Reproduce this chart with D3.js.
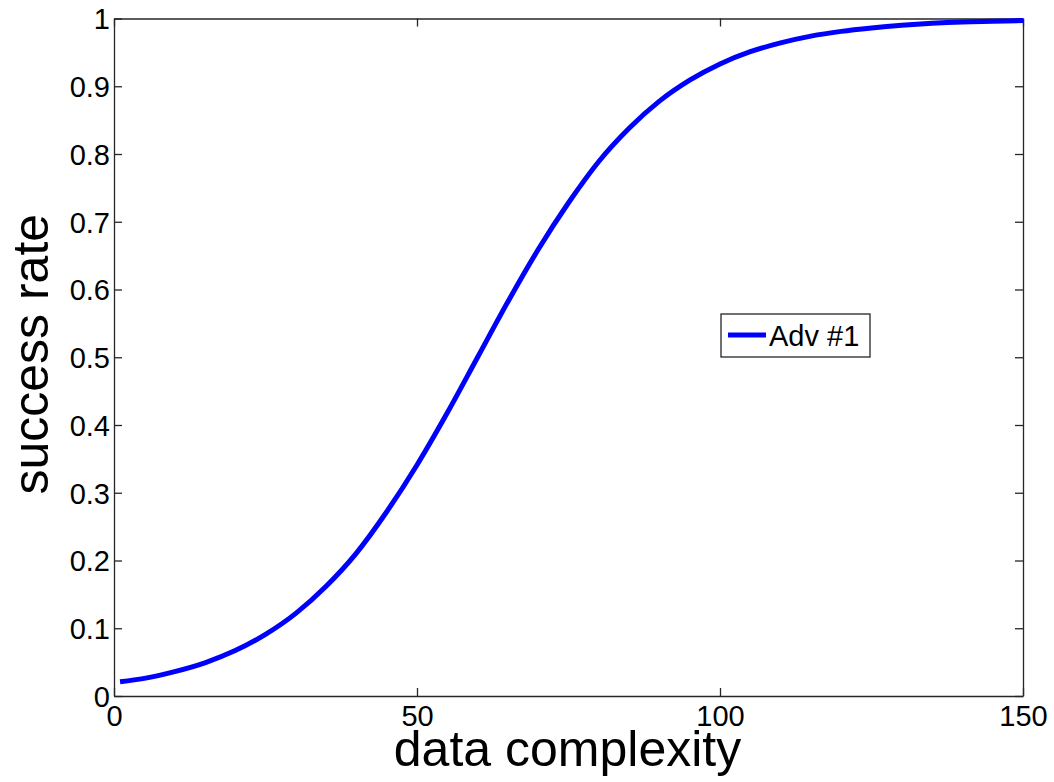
<!DOCTYPE html>
<html>
<head>
<meta charset="utf-8">
<script src="https://cdn.jsdelivr.net/npm/d3@7"></script>
<style>
  body { margin: 0; background: #fff; }
  text { font-family: "Liberation Sans", Arial, sans-serif; fill: #000; }
</style>
</head>
<body>
<div class="chart"></div>
<script>
// data
const complexity = [1, 5, 10, 15, 20, 25, 30, 35, 40, 45, 50, 55, 60, 65, 70, 75, 80, 85, 90, 95, 100, 105, 110, 115, 120, 125, 130, 135, 140, 145, 150];
const successRate = [0.021, 0.026, 0.036, 0.049, 0.067, 0.091, 0.122, 0.162, 0.211, 0.272, 0.341, 0.418, 0.500, 0.582, 0.659, 0.728, 0.789, 0.838, 0.878, 0.909, 0.933, 0.951, 0.964, 0.974, 0.981, 0.986, 0.990, 0.993, 0.995, 0.996, 0.997];
const xTicks = [0, 50, 100, 150];
const yTicks = [0, 0.1, 0.2, 0.3, 0.4, 0.5, 0.6, 0.7, 0.8, 0.9, 1];
const seriesName = "Adv #1";

const margin = {top: 18.5, right: 31, bottom: 86, left: 114};
const W = 1054, H = 782;
const width = W - margin.left - margin.right;
const height = H - margin.top - margin.bottom;

const svg = d3.select(".chart")
    .append("svg")
    .attr("width", W)
    .attr("height", H)
  .append("g")
    .attr("transform", "translate(" + margin.left + "," + margin.top + ")");

const x = d3.scaleLinear().domain([0, 150]).range([0, width]);
const y = d3.scaleLinear().domain([0, 1]).range([height, 0]);

const tickFont = 29;

// bottom axis
const gx = svg.append("g")
    .attr("transform", "translate(0," + height + ")")
    .call(d3.axisBottom(x).tickValues(xTicks).tickSize(-8).tickSizeOuter(0).tickPadding(10).tickFormat(d3.format("")));
// left axis
const gy = svg.append("g")
    .call(d3.axisLeft(y).tickValues(yTicks).tickSize(-8).tickSizeOuter(0).tickPadding(4).tickFormat(d3.format("")));
// top and right, ticks only
const gt = svg.append("g")
    .call(d3.axisTop(x).tickValues(xTicks).tickSize(-8).tickSizeOuter(0).tickFormat(""));
const gr = svg.append("g")
    .attr("transform", "translate(" + width + ",0)")
    .call(d3.axisRight(y).tickValues(yTicks).tickSize(-8).tickSizeOuter(0).tickFormat(""));

[gx, gy, gt, gr].forEach(g => {
  g.selectAll("path.domain").attr("stroke", "#262626").attr("stroke-width", 1.3);
  g.selectAll(".tick line").attr("stroke", "#262626").attr("stroke-width", 1.3);
  g.selectAll("text").style("font-size", tickFont + "px").style("font-family", "'Liberation Sans', Arial, sans-serif").attr("fill", "#000");
});
gy.selectAll("text").attr("dy", "0.36em");
gx.selectAll("text").attr("dy", "0.7em");

// the curve
const line = d3.line()
    .x((d, i) => x(complexity[i]))
    .y(d => y(d))
    .curve(d3.curveMonotoneX);

svg.append("path")
    .datum(successRate)
    .attr("fill", "none")
    .attr("stroke", "#0000ff")
    .attr("stroke-width", 5)
    .attr("d", line);

// axis titles
svg.append("text")
    .attr("x", x(75) - 1)
    .attr("y", height + 70)
    .attr("text-anchor", "middle")
    .style("font-size", "50px")
    .text("data complexity");

svg.append("text")
    .attr("transform", "translate(" + (48 - margin.left) + "," + (y(0.5) - 3) + ") rotate(-90)")
    .attr("text-anchor", "middle")
    .style("font-size", "50px")
    .text("success rate");

// legend
const legend = svg.append("g")
    .attr("transform", "translate(" + (721 - margin.left) + "," + (314 - margin.top) + ")");
legend.append("rect")
    .attr("width", 149).attr("height", 43)
    .attr("fill", "#fff")
    .attr("stroke", "#262626").attr("stroke-width", 1.3);
legend.append("line")
    .attr("x1", 7).attr("x2", 45)
    .attr("y1", 21).attr("y2", 21)
    .attr("stroke", "#0000ff").attr("stroke-width", 5);
legend.append("text")
    .attr("x", 48).attr("y", 32)
    .style("font-size", tickFont + "px")
    .text(seriesName);
</script>
</body>
</html>
